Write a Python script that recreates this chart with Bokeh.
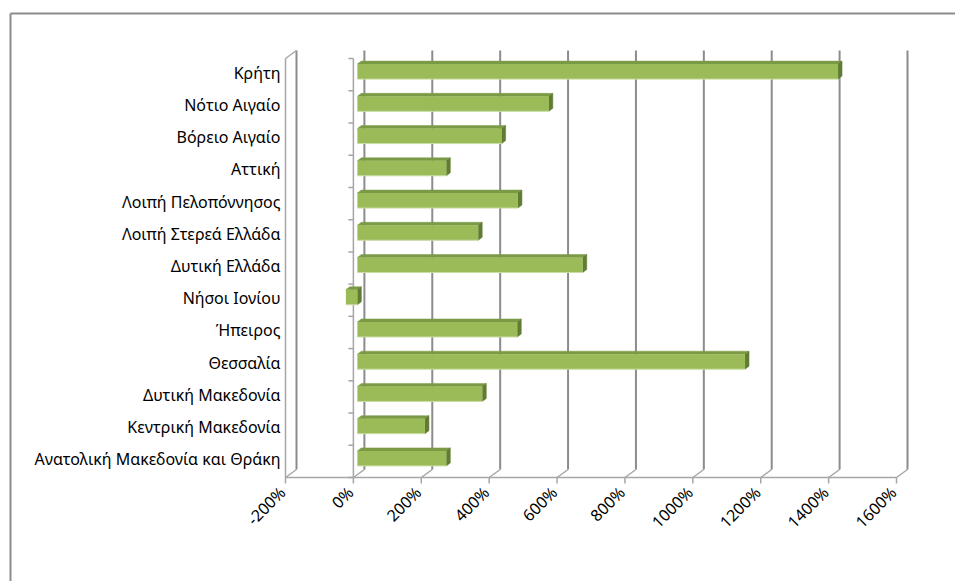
import math
from bokeh.plotting import figure
from bokeh.models import Range1d
from bokeh.core.properties import value
from bokeh.embed import file_html
from bokeh.resources import INLINE

# ---------------- data (top to bottom as in the chart) ----------------
categories = ["Κρήτη", "Νότιο Αιγαίο", "Βόρειο Αιγαίο", "Αττική",
              "Λοιπή Πελοπόννησος", "Λοιπή Στερεά Ελλάδα", "Δυτική Ελλάδα",
              "Νήσοι Ιονίου", "Ήπειρος", "Θεσσαλία", "Δυτική Μακεδονία",
              "Κεντρική Μακεδονία", "Ανατολική Μακεδονία και Θράκη"]
values = [1416, 564, 425, 262, 473, 356, 664, -34, 471, 1142, 368, 199, 262]
x_ticks = [-200, 0, 200, 400, 600, 800, 1000, 1200, 1400, 1600]
x_tick_labels = ["-200%", "0%", "200%", "400%", "600%", "800%", "1000%",
                 "1200%", "1400%", "1600%"]

# ---------------- geometry / style constants (pixels) ----------------
W, H = 955, 581
SX = 611 / 1800.0          # px per percent on the front plane
SY = 419 / 13.0            # px per category
ORIGIN_X, FLOOR_Y = 285, 477   # canvas px of (-200 %, floor)
BACK_DX, BACK_DY = 11 / SX, 8 / SY      # oblique depth of the box
BAR_DX, BAR_DY = 4 / SX, 3 / SY         # bar front-face offset
DEP_DX, DEP_DY = 4 / SX, 3 / SY         # bar thickness
BAR_H = 15 / SY
TICK_L_X = 5 / SX
TICK_L_Y = 6 / SY
FONT = value("Noto Sans")
FONT_SIZE = value("16px")
GRID_C = "#8C8C8C"
WALL_C = "#A6A6A6"

n = len(categories)
cats_bt = categories[::-1]
vals_bt = values[::-1]
x_min, x_max = x_ticks[0], x_ticks[-1]


def px_x(px):   # canvas px -> data x
    return x_min + (px - ORIGIN_X) / SX


def px_y(py):   # canvas px -> data y
    return (FLOOR_Y - py) / SY


p = figure(width=W, height=H, min_border=0,
           x_range=Range1d(px_x(0), px_x(W)),
           y_range=Range1d(px_y(H), px_y(0)),
           output_backend="svg", toolbar_location=None,
           outline_line_color=None, background_fill_color="white",
           border_fill_color="white")
p.xgrid.visible = False
p.ygrid.visible = False
p.xaxis.visible = False
p.yaxis.visible = False

# outer chart border (top and left edge; right/bottom lie outside the window)
p.segment(x0=[px_x(10), px_x(10)], y0=[px_y(13), px_y(13)],
          x1=[px_x(W + 20), px_x(10)], y1=[px_y(13), px_y(H + 20)],
          line_color=GRID_C, line_width=2)

# back wall gridlines
p.segment(x0=[t + BACK_DX for t in x_ticks], y0=[BACK_DY] * len(x_ticks),
          x1=[t + BACK_DX for t in x_ticks], y1=[n + BACK_DY] * len(x_ticks),
          line_color=GRID_C, line_width=2)
# floor connectors
p.segment(x0=x_ticks, y0=[0] * len(x_ticks),
          x1=[t + BACK_DX for t in x_ticks], y1=[BACK_DY] * len(x_ticks),
          line_color=WALL_C, line_width=1.5)
# value-axis ticks below the floor edge
p.segment(x0=x_ticks, y0=[0] * len(x_ticks),
          x1=x_ticks, y1=[-TICK_L_Y] * len(x_ticks),
          line_color=WALL_C, line_width=1.5)
# front floor edge, left wall
p.segment(x0=[x_min, x_min, x_min], y0=[0, 0, n],
          x1=[x_max, x_min, x_min + BACK_DX], y1=[0, n, n + BACK_DY],
          line_color=WALL_C, line_width=1.5)
# category axis at 0 % with ticks
p.segment(x0=[0], y0=[0], x1=[0], y1=[n], line_color=WALL_C, line_width=1.5)
p.segment(x0=[-TICK_L_X] * (n + 1), y0=list(range(n + 1)),
          x1=[0] * (n + 1), y1=list(range(n + 1)),
          line_color=WALL_C, line_width=1.5)

# bars (top face, side face, front face)
front_l, front_r, front_b, front_t = [], [], [], []
top_xs, top_ys, side_xs, side_ys = [], [], [], []
for i, v in enumerate(vals_bt):
    x0 = min(0, v) + BAR_DX
    x1 = max(0, v) + BAR_DX
    yb = i + 0.5 - BAR_H / 2 + BAR_DY
    yt = i + 0.5 + BAR_H / 2 + BAR_DY
    front_l.append(x0); front_r.append(x1)
    front_b.append(yb); front_t.append(yt)
    top_xs.append([x0, x1, x1 + DEP_DX, x0 + DEP_DX])
    top_ys.append([yt, yt, yt + DEP_DY, yt + DEP_DY])
    side_xs.append([x1, x1 + DEP_DX, x1 + DEP_DX, x1])
    side_ys.append([yb, yb + DEP_DY, yt + DEP_DY, yt])

p.patches(xs=top_xs, ys=top_ys, fill_color="#7A9A45", line_color="#7A9A45",
          line_width=0.5)
p.patches(xs=side_xs, ys=side_ys, fill_color="#617C32", line_color="#617C32",
          line_width=0.5)
p.quad(left=front_l, right=front_r, bottom=front_b, top=front_t,
       fill_color="#9BBB59", line_color=None)
p.segment(x0=front_l, y0=front_b, x1=front_r, y1=front_b,
          line_color="#C9DCA3", line_width=1)

# category labels
p.text(x=[x_min - 5 / SX] * n, y=[i + 0.5 + 2 / SY for i in range(n)],
       text=cats_bt, text_align="right", text_baseline="middle",
       text_font=FONT, text_font_size=FONT_SIZE, text_color="#000000")

# value-axis labels, rotated 45 degrees
p.text(x=[t - 3 / SX for t in x_ticks], y=[-12 / SY] * len(x_ticks),
       text=x_tick_labels, angle=math.pi / 4,
       text_align="right", text_baseline="middle",
       text_font=FONT, text_font_size=FONT_SIZE, text_color="#000000")

open("out.html", "w").write(file_html(p, INLINE))
